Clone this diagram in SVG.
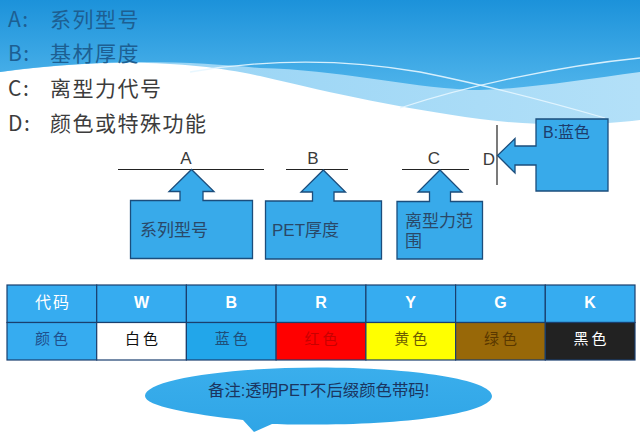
<svg xmlns="http://www.w3.org/2000/svg" width="640" height="446" viewBox="0 0 640 446">
<defs>
<linearGradient id="gDark" x1="0" y1="0" x2="0" y2="1">
<stop offset="0" stop-color="#1c92da"/>
<stop offset="1" stop-color="#4fb4eb"/>
</linearGradient>
<linearGradient id="gLight" x1="0" y1="0" x2="1" y2="0">
<stop offset="0" stop-color="#8fd0f4"/>
<stop offset="1" stop-color="#b3e0f8"/>
</linearGradient>
<linearGradient id="gNote" x1="0" y1="0" x2="0" y2="1">
<stop offset="0" stop-color="#3aaeec"/>
<stop offset="1" stop-color="#2fa5e6"/>
</linearGradient>
<style>
.title{font-family:"Noto Sans CJK SC","Liberation Sans",sans-serif;font-size:21px;font-weight:400;letter-spacing:1.5px}
.lbl{font-family:"Liberation Sans","Noto Sans CJK SC",sans-serif;font-size:17px;fill:#3a3a3a}
.ref{stroke:#222;stroke-width:1.2;fill:none}
.call{fill:#38aaea;stroke:#1b4d7c;stroke-width:1.3;stroke-linejoin:miter}
.ct{font-family:"Liberation Sans","Noto Sans CJK SC",sans-serif;font-size:17px;fill:#2a4868}
.cell{stroke:#1a3f6e;stroke-width:1.2}
.hd{font-family:"Liberation Sans","Noto Sans CJK SC",sans-serif;font-size:16px;font-weight:bold;fill:#ffffff;text-anchor:middle}
.dt{font-family:"Noto Sans CJK SC",sans-serif;font-size:15px;letter-spacing:3px;text-anchor:middle}
</style>
</defs>
<rect width="640" height="446" fill="#ffffff"/>
<g id="background">
<path d="M0,0 H640 V120 C600,125 540,127 480,119 C400,108 340,95 260,76 C200,63 120,56 0,72 Z" fill="url(#gLight)"/>
<path d="M0,0 H640 V72 C580,80 520,90 470,90 C400,86 340,70 260,68 C200,63 120,56 0,72 Z" fill="url(#gDark)"/>
<path d="M190,72 C260,60 340,58 420,72 C500,88 560,105 605,118" fill="none" stroke="#e6f6ff" stroke-width="1.3" opacity="0.9"/>
<path d="M400,108 C470,85 560,66 640,58" fill="none" stroke="#e6f6ff" stroke-width="1.3" opacity="0.9"/>
</g>
<g id="legend">
<text class="title" x="8" y="27" fill="#1d5f92">A:<tspan x="50">系列型号</tspan></text>
<text class="title" x="8" y="61" fill="#1d5f92">B:<tspan x="50">基材厚度</tspan></text>
<text class="title" x="8" y="96" fill="#3c3c3c">C:<tspan x="50">离型力代号</tspan></text>
<text class="title" x="8" y="131" fill="#3c3c3c">D:<tspan x="50">颜色或特殊功能</tspan></text>
</g>
<g id="connectors">
<line class="ref" x1="118" y1="169.5" x2="264" y2="169.5"/>
<line class="ref" x1="286" y1="169.5" x2="348" y2="169.5"/>
<line class="ref" x1="402" y1="169.5" x2="469" y2="169.5"/>
<line class="ref" x1="497" y1="125" x2="497" y2="185" stroke="#555"/>
</g>
<g id="label-A"><text class="lbl" x="186" y="164" text-anchor="middle">A</text></g>
<g id="label-B"><text class="lbl" x="313" y="164" text-anchor="middle">B</text></g>
<g id="label-C"><text class="lbl" x="434" y="164" text-anchor="middle">C</text></g>
<g id="label-D"><text class="lbl" x="489" y="165" text-anchor="middle">D</text></g>
<g id="callout-A">
<path class="call" d="M130.5,200.5 H180 V191.5 H169 L191.5,169.5 L214,191.5 H203 V200.5 H252.5 V258.5 H130.5 Z"/>
<text class="ct" x="140" y="236">系列型号</text>
</g>
<g id="callout-B">
<path class="call" d="M265.5,201 H312.5 V192 H301 L323.3,170 L345.5,192 H334 V201 H381.5 V259 H265.5 Z"/>
<text class="ct" x="272" y="236">PET厚度</text>
</g>
<g id="callout-C">
<path class="call" d="M397,201.5 H429.5 V192 H418 L440,170 L462,192 H450.5 V201.5 H482.5 V259 H397 Z"/>
<text class="ct" x="405" y="227">离型力范</text>
<text class="ct" x="405" y="247">围</text>
</g>
<g id="callout-D">
<path class="call" d="M536,119 V146 H515 V138.5 L497.5,155.5 L515,173 V165 H536 V191 H608 V119 Z"/>
<text class="ct" x="543" y="138" style="font-size:16px;fill:#1d3c6c">B:蓝色</text>
</g>
<g id="table">
<rect class="cell" x="7" y="285" width="89.7" height="37.5" fill="#36acf0"/>
<rect class="cell" x="96.7" y="285" width="89.7" height="37.5" fill="#36acf0"/>
<rect class="cell" x="186.4" y="285" width="89.7" height="37.5" fill="#36acf0"/>
<rect class="cell" x="276.1" y="285" width="89.8" height="37.5" fill="#36acf0"/>
<rect class="cell" x="365.9" y="285" width="89.7" height="37.5" fill="#36acf0"/>
<rect class="cell" x="455.6" y="285" width="89.7" height="37.5" fill="#36acf0"/>
<rect class="cell" x="545.3" y="285" width="89.7" height="37.5" fill="#36acf0"/>
<rect class="cell" x="7" y="322.5" width="89.7" height="37.5" fill="#36acf0"/>
<rect class="cell" x="96.7" y="322.5" width="89.7" height="37.5" fill="#ffffff"/>
<rect class="cell" x="186.4" y="322.5" width="89.7" height="37.5" fill="#22a6ea"/>
<rect class="cell" x="276.1" y="322.5" width="89.8" height="37.5" fill="#ff0000"/>
<rect class="cell" x="365.9" y="322.5" width="89.7" height="37.5" fill="#ffff00"/>
<rect class="cell" x="455.6" y="322.5" width="89.7" height="37.5" fill="#986808"/>
<rect class="cell" x="545.3" y="322.5" width="89.7" height="37.5" fill="#222222"/>
<text class="hd" x="53" y="308" style="letter-spacing:2px;font-weight:normal">代码</text>
<text class="hd" x="141.5" y="308">W</text>
<text class="hd" x="231.2" y="308">B</text>
<text class="hd" x="321" y="308">R</text>
<text class="hd" x="410.7" y="308">Y</text>
<text class="hd" x="500.4" y="308">G</text>
<text class="hd" x="590.1" y="308">K</text>
<text class="dt" x="53" y="344" fill="#1f4f8c">颜色</text>
<text class="dt" x="143" y="344" fill="#111111">白色</text>
<text class="dt" x="232.7" y="344" fill="#1f4e79">蓝色</text>
<text class="dt" x="322.5" y="344" fill="#c80000">红色</text>
<text class="dt" x="412.2" y="344" fill="#6b5a00">黄色</text>
<text class="dt" x="501.9" y="344" fill="#5a3800">绿色</text>
<text class="dt" x="591.6" y="344" fill="#ffffff">黑色</text>
</g>
<g id="note">
<path d="M243,420 C190,414 145,406 145,396 C145,380 223,367.5 318.5,367.5 C414,367.5 492,380 492,396 C492,412 414,424.5 318.5,424.5 C300,424.5 285,424.5 272,424 L254,432 Z" fill="url(#gNote)"/>
<text x="208" y="396" style="font-family:'Liberation Sans','Noto Sans CJK SC',sans-serif;font-size:16.4px;fill:#1b3560">备注:透明PET不后缀颜色带码!</text>
</g>
</svg>
